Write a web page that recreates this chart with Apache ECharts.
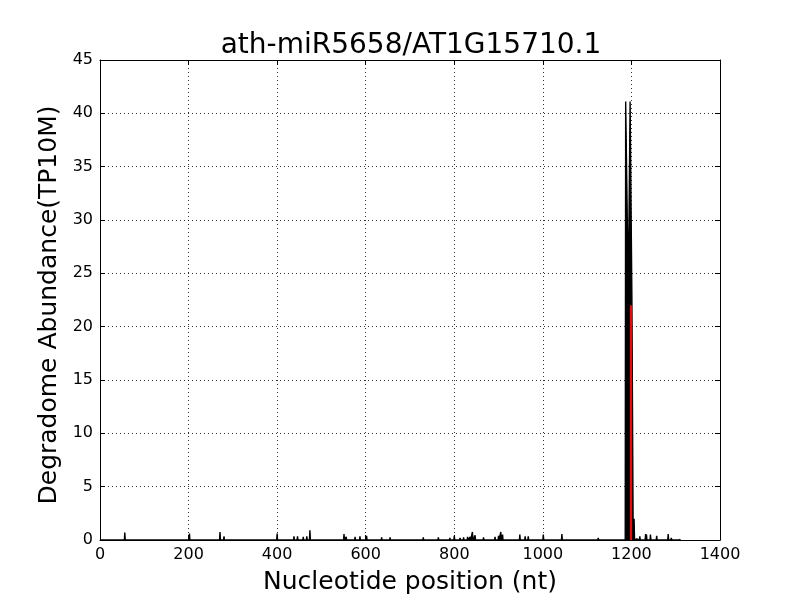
<!DOCTYPE html>
<html><head><meta charset="utf-8">
<script src="https://cdn.jsdelivr.net/npm/echarts@6/dist/echarts.min.js"></script>
<style>html,body{margin:0;padding:0;background:#fff}#c{width:800px;height:600px}</style>
</head><body><div id="c"></div>
<script>
const chartTitle = 'ath-miR5658/AT1G15710.1';
const xName = 'Nucleotide position (nt)';
const yName = 'Degradome Abundance(TP10M)';
const xTicks = [0, 200, 400, 600, 800, 1000, 1200, 1400];
const yTicks = [0, 5, 10, 15, 20, 25, 30, 35, 40, 45];
const seqLength = 1310;
// nonzero degradome abundance positions (nt) and values (TP10M)
const spikePositions = [26, 45, 56, 79, 98, 113, 124, 135, 147, 162, 202, 226, 239, 271, 280, 318, 330,
  400, 438, 446, 459, 467, 474, 482, 516, 551, 556, 565, 576, 587, 602, 636, 655, 680, 700,
  730, 764, 790, 800, 813, 821, 830, 836, 841, 847, 866, 892, 900, 905, 909, 948, 960, 967, 1001, 1020,
  1043, 1060, 1080, 1095, 1125, 1150,
  1187, 1188, 1189, 1190, 1191, 1192, 1193, 1194, 1195, 1196, 1197, 1198, 1199, 1200, 1201, 1202, 1203,
  1206, 1212, 1219, 1232, 1234, 1243, 1252, 1257, 1270, 1283, 1290, 1310];
const spikeValues = [0.12, 0.15, 0.7, 0.1, 0.1, 0.1, 0.12, 0.12, 0.1, 0.08, 0.6, 0.1, 0.15, 0.75, 0.35, 0.1, 0.05,
  0.6, 0.35, 0.35, 0.3, 0.35, 0.9, 0.05, 0.1, 0.55, 0.3, 0.1, 0.3, 0.35, 0.4, 0.25, 0.25, 0.1, 0.1,
  0.25, 0.25, 0.2, 0.4, 0.2, 0.25, 0.3, 0.3, 0.75, 0.45, 0.25, 0.3, 0.4, 0.75, 0.5, 0.5, 0.35, 0.35, 0.5, 0.1,
  0.55, 0.1, 0.15, 0.15, 0.2, 0.1,
  41.1, 41.1, 41.1, 41.1, 41.1, 41.1, 23, 23, 23, 23, 41.1, 41.1, 41.1, 41.1, 23, 23, 23,
  2.0, 0.1, 0.35, 0.55, 0.5, 0.5, 0.15, 0.4, 0.15, 0.55, 0.2, 0.1];
const cleavagePosition = 1199;
const cleavageValue = 22;

// build the abundance profile: zero baseline, rising to each recorded value
const profile = [[0, 0]];
spikePositions.forEach((p, k) => {
  const prev = k > 0 ? spikePositions[k - 1] : -10;
  const next = k < spikePositions.length - 1 ? spikePositions[k + 1] : seqLength + 10;
  if (p - prev > 1) profile.push([p - 1, 0]);
  profile.push([p, spikeValues[k]]);
  if (next - p > 1) profile.push([Math.min(p + 1, seqLength), 0]);
});
if (profile[profile.length - 1][0] < seqLength) profile.push([seqLength, 0]);

const chart = echarts.init(document.getElementById('c'), null, {renderer: 'canvas'});
const font = 'DejaVu Sans';
const tickCommon = {show: true, inside: true, length: 5, lineStyle: {color: '#000', width: 1}};
const grid = {type: [1, 3], color: '#000', width: 1, opacity: 0.8};
const plain = v => String(v);
chart.setOption({
  animation: false,
  backgroundColor: '#fff',
  title: {text: chartTitle, left: 406, top: 27, textAlign: 'center',
    textStyle: {fontFamily: font, fontSize: 28, fontWeight: 'normal', color: '#000'}},
  grid: {left: 100, right: 80, top: 60, bottom: 60, show: false, containLabel: false, outerBoundsMode: 'none'},
  xAxis: [{
    type: 'value', min: 0, max: 1400, interval: 200, position: 'bottom',
    name: xName, nameLocation: 'middle', nameGap: 30,
    nameTextStyle: {fontFamily: font, fontSize: 25, color: '#000'},
    axisLine: {show: true, lineStyle: {color: '#000', width: 1}},
    axisTick: tickCommon,
    axisLabel: {fontFamily: font, fontSize: 16, color: '#000', margin: 7, formatter: plain},
    splitLine: {show: true, lineStyle: grid}
  }, {
    type: 'value', min: 0, max: 1400, interval: 200, position: 'top',
    axisLine: {show: true, onZero: false, lineStyle: {color: '#000', width: 1}},
    axisTick: tickCommon, axisLabel: {show: false}, splitLine: {show: false}
  }],
  yAxis: [{
    type: 'value', min: 0, max: 45, interval: 5, position: 'left',
    name: yName, nameLocation: 'middle', nameGap: 33,
    nameTextStyle: {fontFamily: font, fontSize: 25, color: '#000', padding: [0, 0, 0, -10]},
    axisLine: {show: true, lineStyle: {color: '#000', width: 1}},
    axisTick: tickCommon,
    axisLabel: {fontFamily: font, fontSize: 16, color: '#000', margin: 7, formatter: plain},
    splitLine: {show: true, lineStyle: grid}
  }, {
    type: 'value', min: 0, max: 45, interval: 5, position: 'right',
    axisLine: {show: true, onZero: false, lineStyle: {color: '#000', width: 1}},
    axisTick: tickCommon, axisLabel: {show: false}, splitLine: {show: false}
  }],
  series: [{
    type: 'line', data: profile, showSymbol: false, symbol: 'none',
    lineStyle: {color: '#000', width: 1.4}, areaStyle: {color: '#000', opacity: 1},
    silent: true, z: 2
  }, {
    type: 'line', data: [[cleavagePosition, 0], [cleavagePosition, cleavageValue]],
    showSymbol: false, symbol: 'none',
    lineStyle: {color: '#ff0000', width: 2}, silent: true, z: 3
  }]
});
</script></body></html>
